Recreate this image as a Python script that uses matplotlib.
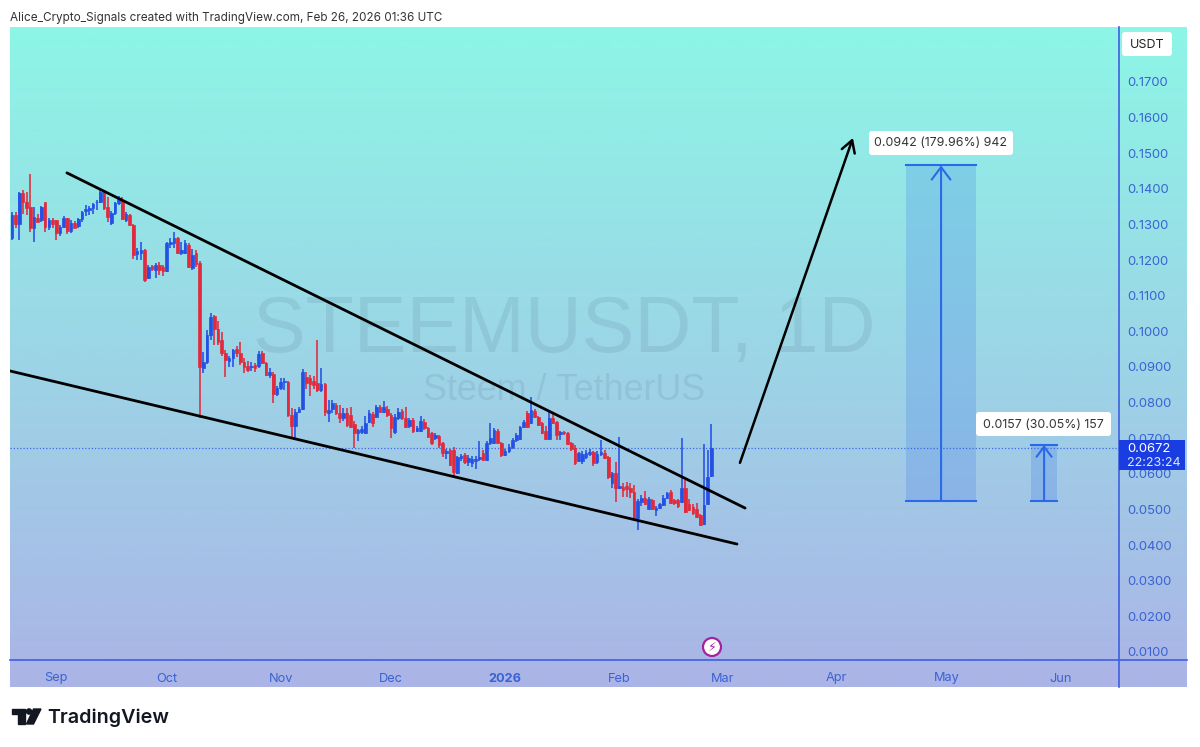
import numpy as np
import matplotlib
matplotlib.use("Agg")
import matplotlib.pyplot as plt
from matplotlib.patches import Polygon, Circle, Rectangle, FancyBboxPatch

# daily candles, day 0 = 1 Sep 2025
opens = [.1262,.1327,.1302,.1389,.1363,.1349,.1291,.1318,.1313,.1363,.1293,.1313,.1313,.1276,.1293,.1318,.1282,.1305,.1296,.1316,.1338,.1341,.1347,.1363,.1363,.1391,.1349,.1304,.1332,.1360,.1369,.1313,.1327,.1299,.1217,.1219,.1228,.1150,.1183,.1172,.1186,.1180,.1169,.1245,.1248,.1262,.1220,.1220,.1242,.1178,
 .1220,.1192,.0897,.0914,.0990,.1043,.1007,.0976,.0939,.0917,.0925,.0951,.0939,.0914,.0903,.0900,.0906,.0903,.0939,.0911,.0878,.0880,.0824,.0841,.0858,.0858,.0765,.0734,.0774,.0782,.0872,.0869,.0861,.0855,.0835,.0852,.0772,.0782,.0793,.0771,
 .0757,.0771,.0765,.0740,.0715,.0718,.0715,.0746,.0768,.0760,.0788,.0774,.0782,.0765,.0718,.0757,.0777,.0757,.0735,.0751,.0721,.0721,.0746,.0729,.0715,.0701,.0706,.0687,.0659,.0667,.0667,.0603,.0645,.0653,.0633,.0631,.0636,.0642,.0659,.0639,
 .0687,.0687,.0720,.0687,.0653,.0664,.0676,.0695,.0698,.0732,.0771,.0743,.0777,.0760,.0743,.0720,.0698,.0757,.0746,.0712,.0718,.0715,.0687,.0673,.0636,.0636,.0647,.0656,.0662,.0633,.0656,.0659,.0647,.0574,.0602,.0560,.0563,.0566,.0560,.0549,
 .0476,.0521,.0533,.0502,.0527,.0499,.0505,.0513,.0533,.0549,.0527,.0527,.0521,.0560,.0516,.0507,.0502,.0485,.0460,.0516,.0594]
highs = [.1335,.1335,.1392,.1397,.1392,.1442,.1349,.1330,.1352,.1360,.1319,.1319,.1313,.1299,.1324,.1319,.1313,.1310,.1319,.1338,.1355,.1352,.1360,.1369,.1397,.1397,.1377,.1338,.1363,.1380,.1377,.1335,.1330,.1302,.1234,.1251,.1231,.1186,.1186,.1192,.1195,.1186,.1251,.1262,.1279,.1265,.1251,.1256,.1248,.1231,
 .1228,.1197,.0942,.1004,.1052,.1046,.1029,.0998,.0948,.0931,.0951,.0959,.0970,.0925,.0917,.0914,.0911,.0945,.0945,.0914,.0897,.0886,.0846,.0869,.0869,.0861,.0785,.0782,.0788,.0894,.0886,.0878,.0875,.0976,.0897,.0855,.0807,.0807,.0799,.0793,
 .0785,.0785,.0788,.0749,.0727,.0735,.0763,.0780,.0774,.0793,.0793,.0805,.0791,.0771,.0768,.0785,.0782,.0788,.0757,.0757,.0735,.0763,.0754,.0732,.0718,.0715,.0709,.0690,.0670,.0670,.0676,.0650,.0656,.0659,.0653,.0650,.0650,.0693,.0667,.0693,
 .0743,.0729,.0726,.0690,.0670,.0684,.0701,.0715,.0735,.0752,.0777,.0816,.0782,.0763,.0746,.0735,.0774,.0768,.0749,.0721,.0721,.0718,.0690,.0681,.0662,.0664,.0667,.0670,.0665,.0664,.0695,.0667,.0650,.0605,.0633,.0703,.0574,.0577,.0574,.0569,
 .0530,.0541,.0552,.0535,.0530,.0510,.0519,.0541,.0549,.0555,.0530,.0530,.0701,.0583,.0530,.0516,.0519,.0488,.0684,.0667,.0740]
lows = [.1256,.1291,.1256,.1330,.1327,.1279,.1251,.1307,.1307,.1279,.1285,.1291,.1256,.1268,.1290,.1273,.1276,.1290,.1290,.1307,.1324,.1327,.1330,.1341,.1360,.1341,.1307,.1299,.1327,.1355,.1313,.1307,.1296,.1203,.1200,.1200,.1138,.1147,.1169,.1150,.1158,.1155,.1166,.1234,.1234,.1217,.1214,.1217,.1178,.1172,
 .1180,.0757,.0883,.0908,.0976,.0962,.0962,.0931,.0872,.0900,.0900,.0928,.0906,.0883,.0886,.0889,.0886,.0897,.0908,.0875,.0869,.0799,.0818,.0835,.0835,.0760,.0703,.0700,.0771,.0779,.0838,.0818,.0838,.0830,.0830,.0763,.0746,.0771,.0765,.0743,
 .0749,.0732,.0729,.0673,.0692,.0712,.0712,.0743,.0732,.0757,.0771,.0771,.0760,.0701,.0712,.0751,.0751,.0729,.0729,.0715,.0718,.0718,.0723,.0701,.0681,.0695,.0673,.0648,.0642,.0622,.0594,.0600,.0636,.0628,.0622,.0619,.0614,.0636,.0636,.0636,
 .0681,.0684,.0684,.0647,.0650,.0659,.0670,.0690,.0695,.0729,.0729,.0740,.0757,.0735,.0712,.0695,.0695,.0740,.0695,.0695,.0710,.0681,.0665,.0625,.0633,.0628,.0642,.0650,.0622,.0628,.0650,.0642,.0586,.0560,.0521,.0558,.0535,.0535,.0532,.0473,
 .0442,.0510,.0513,.0499,.0499,.0482,.0502,.0510,.0530,.0516,.0513,.0505,.0519,.0491,.0496,.0485,.0476,.0454,.0457,.0513,.0591]
closes = [.1327,.1302,.1389,.1363,.1347,.1291,.1321,.1307,.1349,.1293,.1313,.1302,.1276,.1293,.1318,.1282,.1305,.1290,.1316,.1335,.1344,.1347,.1358,.1363,.1391,.1347,.1321,.1332,.1361,.1372,.1316,.1330,.1299,.1214,.1225,.1228,.1144,.1181,.1175,.1186,.1172,.1169,.1248,.1251,.1262,.1220,.1228,.1248,.1181,.1214,
 .1190,.0900,.0914,.0990,.1040,.1007,.0970,.0939,.0920,.0925,.0948,.0939,.0914,.0900,.0892,.0903,.0897,.0936,.0911,.0878,.0886,.0824,.0841,.0858,.0861,.0765,.0734,.0774,.0782,.0886,.0855,.0852,.0849,.0835,.0852,.0774,.0778,.0799,.0771,.0757,
 .0771,.0737,.0732,.0715,.0723,.0726,.0743,.0771,.0743,.0788,.0774,.0788,.0765,.0729,.0760,.0774,.0757,.0732,.0751,.0721,.0729,.0749,.0729,.0704,.0687,.0709,.0681,.0659,.0664,.0625,.0605,.0647,.0650,.0633,.0645,.0642,.0642,.0647,.0639,.0687,
 .0701,.0723,.0687,.0653,.0664,.0676,.0695,.0709,.0732,.0746,.0732,.0779,.0760,.0737,.0715,.0698,.0757,.0743,.0709,.0718,.0715,.0684,.0670,.0631,.0659,.0656,.0659,.0662,.0631,.0656,.0662,.0645,.0591,.0602,.0560,.0566,.0555,.0558,.0549,.0476,
 .0524,.0533,.0516,.0530,.0502,.0505,.0516,.0533,.0547,.0518,.0518,.0510,.0560,.0493,.0499,.0490,.0479,.0457,.0513,.0591,.0672]
days = np.arange(-12, -12 + len(opens))

# trend lines and projection arrow: (day, price) at both ends
upper_days, upper_prices = [2.9, 187.2], [.1445, .0504]
lower_days, lower_prices = [-12.6, 185.0], [.0889, .0403]
arrow_days, arrow_prices = [185.8, 216.5], [.0631, .1543]

# long position tools
big_days, big_entry, big_target = [230.9, 250.0], .0524, .1466
small_days, small_entry, small_target = [264.9, 272.0], .0524, .0681
big_label = "0.0942 (179.96%) 942"
small_label = "0.0157 (30.05%) 157"

last_price = .0672
price_ticks = np.arange(.01, .171, .01)
month_days = [0, 30, 61, 91, 122, 153, 181, 212, 242, 273]
month_labels = ["Sep", "Oct", "Nov", "Dec", "2026", "Feb", "Mar", "Apr", "May", "Jun"]

UP = "#2450e4"
DOWN = "#e12a3c"
TOOL = "#2a6aea"
AXIS = "#3f5fe0"
TICK = "#3a62d4"
FONT = ["Inter", "DejaVu Sans"]

W, H = 1200, 747
fig = plt.figure(figsize=(W / 100, H / 100), dpi=100, facecolor="white")

# page layer in pixel coordinates
bg = fig.add_axes([0, 0, 1, 1])
top = np.array(matplotlib.colors.to_rgb("#8df6e6"))
bottom = np.array(matplotlib.colors.to_rgb("#abb4e6"))
t = np.linspace(0, 1, 256)[:, None, None]
grad = top[None, None, :] * (1 - t) + bottom[None, None, :] * t
bg.imshow(grad, extent=[10, 1187, 687, 27], aspect="auto", zorder=0)
bg.set_xlim(0, W)
bg.set_ylim(H, 0)
bg.axis("off")
bg.plot([1119, 1119], [27, 687], color=AXIS, lw=1.2, zorder=1)
bg.plot([10, 1187], [660, 660], color=AXIS, lw=1.2, zorder=1)

bg.text(10, 17.5, "Alice_Crypto_Signals created with TradingView.com, Feb 26, 2026 01:36 UTC",
        fontsize=8.45, color="#333333", va="center", family=FONT)
bg.text(47, 717.5, "TradingView", fontsize=14.2, color="#131722", va="center",
        weight="semibold", family=FONT)
bg.add_patch(Polygon([(12, 709), (25, 709), (25, 724), (17.5, 724), (17.5, 714), (12, 714)], color="#131722"))
bg.add_patch(Circle((29, 711.5), 2.6, color="#131722"))
bg.add_patch(Polygon([(33.5, 709), (41, 709), (33.5, 724), (26.5, 724)], color="#131722"))

bg.text(564, 332, "STEEMUSDT, 1D", fontsize=56.8, color="#3a4a68", alpha=.11, ha="center", va="center",
        family="Liberation Sans")
bg.text(564, 390, "Steem / TetherUS", fontsize=25.8, color="#3a4a68", alpha=.11, ha="center", va="center",
        family="Liberation Sans")

# chart
ax = fig.add_axes([10 / W, 1 - 660 / H, 1109 / W, 633 / H])
ax.patch.set_alpha(0)
ax.set_xlim((10 - 56.2) / 3.68, (1119 - 56.2) / 3.68)
ax.set_ylim(.01 + (652 - 660) / 3562.5, .01 + (652 - 27) / 3562.5)
for s in ax.spines.values():
    s.set_visible(False)

ax.yaxis.tick_right()
ax.set_yticks(price_ticks)
ax.set_yticklabels(["%.4f" % p for p in price_ticks], fontsize=9.4, color=TICK, family=FONT)
ax.set_xticks(month_days)
ax.set_xticklabels(month_labels, fontsize=9.2, color=TICK, family=FONT)
ax.get_xticklabels()[4].set_fontweight("bold")
ax.tick_params(axis="both", length=0)
ax.tick_params(axis="y", pad=6)
ax.tick_params(axis="x", pad=9)

ax.axhline(last_price, color=UP, lw=.9, ls=(0, (1, 1.6)), alpha=.8, zorder=1)

o, h, l, c = map(np.array, (opens, highs, lows, closes))
colors = np.where(c >= o, UP, DOWN)
ax.vlines(days, l, h, colors=colors, lw=1.15, zorder=2)
ax.bar(days, np.abs(c - o), bottom=np.minimum(o, c), width=.72, color=colors,
       edgecolor=colors, linewidth=.5, zorder=3)

ax.plot(upper_days, upper_prices, color="black", lw=2.0, zorder=4, solid_capstyle="round")
ax.plot(lower_days, lower_prices, color="black", lw=2.0, zorder=4, solid_capstyle="round")
ax.annotate("", xy=(arrow_days[1], arrow_prices[1]), xytext=(arrow_days[0], arrow_prices[0]),
            arrowprops=dict(arrowstyle="->,head_length=.6,head_width=.35", color="black", lw=1.8,
                            mutation_scale=14, shrinkA=0, shrinkB=0), zorder=4)

for d, entry, target, head in [(big_days, big_entry, big_target, 15), (small_days, small_entry, small_target, 12)]:
    ax.add_patch(Rectangle((d[0], entry), d[1] - d[0], target - entry, color=TOOL, alpha=.2, lw=0, zorder=1.5))
    ax.plot(d, [entry, entry], color=TOOL, lw=1.5, zorder=3.5)
    ax.plot(d, [target, target], color=TOOL, lw=1.5, zorder=3.5)
    mid = (d[0] + d[1]) / 2
    ax.annotate("", xy=(mid, target), xytext=(mid, entry),
                arrowprops=dict(arrowstyle="->,head_length=.6,head_width=.45", color=TOOL, lw=1.5,
                                mutation_scale=head, shrinkA=0, shrinkB=0), zorder=3.6)

# text boxes in pixel layer on top of the chart
top_ax = fig.add_axes([0, 0, 1, 1])
top_ax.set_xlim(0, W)
top_ax.set_ylim(H, 0)
top_ax.axis("off")
top_ax.patch.set_alpha(0)


def rounded(x0, y0, x1, y1, color, r=3):
    top_ax.add_patch(FancyBboxPatch((x0 + r, y0 + r), x1 - x0 - 2 * r, y1 - y0 - 2 * r,
                                    boxstyle="round,pad=%d,rounding_size=%d" % (r, r),
                                    facecolor=color, edgecolor="none"))


rounded(869, 131, 1013, 155, "white")
top_ax.text(941, 143.5, big_label, fontsize=8.9, color="#333333", ha="center", va="center", family=FONT)
rounded(976, 412, 1111, 436, "white")
top_ax.text(1043.5, 424.5, small_label, fontsize=8.9, color="#333333", ha="center", va="center", family=FONT)
rounded(1122, 32, 1172, 56, "white")
top_ax.text(1147, 44.5, "USDT", fontsize=9.0, color="#222222", ha="center", va="center", family=FONT)

top_ax.add_patch(Rectangle((1119, 440), 66, 30, facecolor="#1a3de2", edgecolor="none"))
top_ax.text(1127, 448.5, "%.4f" % last_price, fontsize=9.4, color="white", va="center", family=FONT)
top_ax.text(1127, 462.5, "22:23:24", fontsize=9.0, color="#dfe6ff", va="center", family=FONT)

top_ax.add_patch(Circle((712, 647), 9, facecolor="white", edgecolor="#a0249c", lw=1.6))
top_ax.text(712, 647, "\u26a1", fontsize=9, color="#a0249c", ha="center", va="center", family="DejaVu Sans")

fig.savefig("out.png", dpi=100, facecolor="white")
